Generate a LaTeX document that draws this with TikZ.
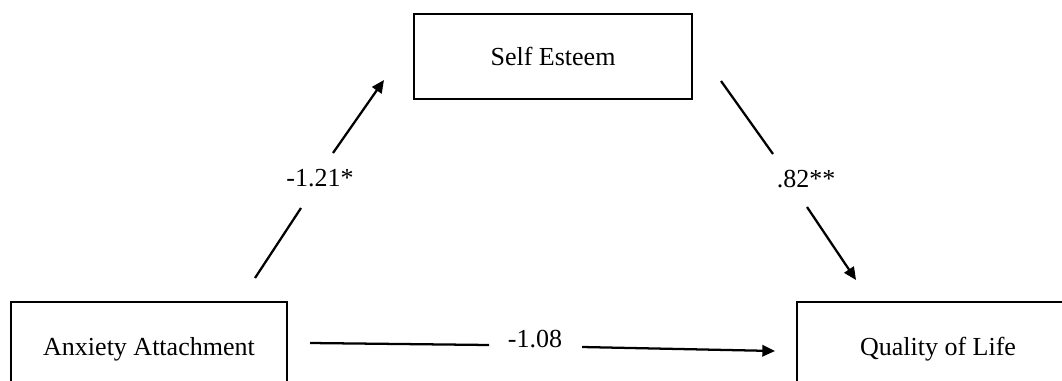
\documentclass[tikz,border=0pt]{standalone}
\usepackage{fontspec}
\setmainfont{Liberation Serif}
\usetikzlibrary{arrows.meta}
\begin{document}
\begin{tikzpicture}[x=0.75pt,y=-0.75pt,
  box/.style={draw=black,line width=1.4pt,fill=white,font=\fontsize{19.5}{23}\selectfont,inner sep=0pt},
  lab/.style={font=\fontsize{19.5}{23}\selectfont,inner sep=0pt},
  path/.style={line width=1.7pt,line cap=butt},
  arr/.style={path,-{Triangle[length=9.5pt,width=8.5pt]}}]
\clip (0,0) rectangle (1062,381);
\fill[white] (0,0) rectangle (1062,381);
\node[box,minimum width=208.5pt,minimum height=63.75pt] (se) at (553,56.5) {Self Esteem};
\node[box,minimum width=207pt,minimum height=70.5pt] (aa) at (149,349) {Anxiety Attachment};
\node[box,minimum width=211.5pt,minimum height=70.5pt] (ql) at (938,349) {Quality of Life};
\node[lab] (l1) at (320,178) {-1.21*};
\node[lab] (l2) at (806,179) {.82**};
\node[lab] (l3) at (535,339) {-1.08};
% left path
\coordinate (a1) at (255,278);
\coordinate (a2) at (301,208);
\coordinate (a3) at (333,153);
\coordinate (a4) at (384,80);
\draw[path] (a1) -- (a2);
\draw[arr] (a3) -- (a4);
% right path
\coordinate (b1) at (721,81);
\coordinate (b2) at (773,154);
\coordinate (b3) at (807,207);
\coordinate (b4) at (856,280);
\draw[path] (b1) -- (b2);
\draw[arr] (b3) -- (b4);
% bottom path
\coordinate (c1) at (310,343);
\coordinate (c2) at (489,345);
\coordinate (c3) at (582,347);
\coordinate (c4) at (775,351);
\draw[path] (c1) -- (c2);
\draw[arr] (c3) -- (c4);
\end{tikzpicture}
\end{document}
